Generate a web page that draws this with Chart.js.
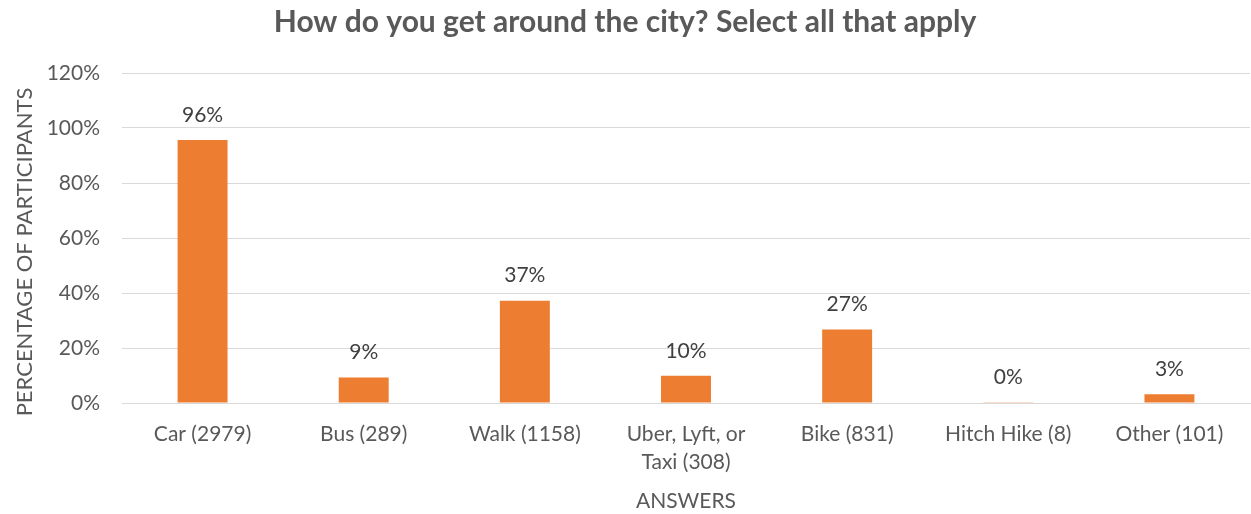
<!DOCTYPE html>
<html><head><meta charset="utf-8">
<script src="https://cdn.jsdelivr.net/npm/chart.js@4/dist/chart.umd.min.js"></script>
<style>html,body{margin:0;padding:0;background:#fff;}#wrap{width:1251px;height:514px;}</style>
</head><body><div id="wrap"><canvas id="c" width="1251" height="514"></canvas></div>
<script>
const categories = [["Car (2979)"], ["Bus (289)"], ["Walk (1158)"], ["Uber, Lyft, or", "Taxi (308)"], ["Bike (831)"], ["Hitch Hike (8)"], ["Other (101)"]];
const percentValues = [95.6, 9.3, 37.2, 9.9, 26.7, 0.26, 3.2];
const yTicks = [0, 20, 40, 60, 80, 100, 120];
const yTitle = "PERCENTAGE OF PARTICIPANTS";
const FONT = "Lato";
const labelPlugin = {
  id: 'barLabels',
  afterDatasetsDraw(chart) {
    const ctx = chart.ctx;
    const meta = chart.getDatasetMeta(0);
    ctx.save();
    ctx.font = "21px " + FONT;
    ctx.fillStyle = "#404040";
    ctx.textAlign = "center";
    ctx.textBaseline = "middle";
    meta.data.forEach((bar, i) => {
      ctx.fillText(Math.round(percentValues[i]) + "%", bar.x, bar.y - 25);
    });
    // y axis title, slightly below the plot centre as in the reference
    const area = chart.chartArea;
    ctx.translate(25, (area.top + area.bottom) / 2 + 14);
    ctx.rotate(-Math.PI / 2);
    ctx.font = "22px " + FONT;
    ctx.fillStyle = "#595959";
    ctx.fillText(yTitle, 0, 0);
    ctx.restore();
  }
};
new Chart(document.getElementById('c'), {
  type: 'bar',
  data: { labels: categories, datasets: [{ data: percentValues, backgroundColor: '#ED7D31', categoryPercentage: 1, barPercentage: 0.31 }] },
  options: {
    responsive: false, animation: false,
    layout: { padding: { left: 0, right: 1, top: 0, bottom: 0 } },
    plugins: {
      legend: { display: false }, tooltip: { enabled: false },
      title: { display: true, text: "How do you get around the city? Select all that apply", color: "#595959", font: { family: FONT, size: 30, weight: 'bold' }, padding: { top: 4, bottom: 33 } }
    },
    scales: {
      x: {
        grid: { display: false, drawTicks: false },
        border: { color: '#d9d9d9' },
        afterFit(axis) { axis.height = 111; },
        ticks: { color: '#595959', font: { family: FONT, size: 21, lineHeight: 1.33 }, padding: 17, maxRotation: 0, autoSkip: false },
        title: { display: true, text: "ANSWERS", color: '#595959', font: { family: FONT, size: 21 }, padding: { top: 0, bottom: 0 } }
      },
      y: {
        min: 0, max: 120,
        afterBuildTicks(axis) { axis.ticks = yTicks.map(v => ({ value: v })); },
        afterFit(axis) { axis.width = 122; },
        grid: { color: '#d9d9d9', drawTicks: false },
        border: { display: false },
        ticks: { color: '#595959', font: { family: FONT, size: 21 }, padding: 22, callback: v => v + '%' },
        title: { display: false }
      }
    }
  },
  plugins: [labelPlugin]
});
</script></body></html>
